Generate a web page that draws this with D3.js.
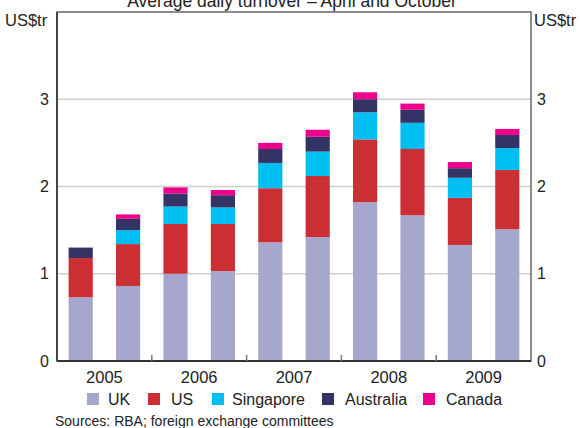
<!DOCTYPE html>
<html>
<head>
<meta charset="utf-8">
<script src="https://cdn.jsdelivr.net/npm/d3@7"></script>
<style>
  body { margin: 0; background: #fff; }
  text { font-family: "Liberation Sans", Arial, sans-serif; fill: #222; }
</style>
</head>
<body>
<svg width="580" height="428"></svg>
<script>
// data (US$ trillion)
var periods = ["2005-04", "2005-10", "2006-04", "2006-10", "2007-04", "2007-10", "2008-04", "2008-10", "2009-04", "2009-10"];
var years = ["2005", "2006", "2007", "2008", "2009"];
var countries = ["UK", "US", "Singapore", "Australia", "Canada"];
var colours = ["#a5a8cc", "#cc2f33", "#00bdf2", "#333366", "#ec008c"];

var uk        = [0.73, 0.86, 1.00, 1.03, 1.36, 1.42, 1.82, 1.67, 1.33, 1.51];
var us        = [0.45, 0.48, 0.57, 0.54, 0.62, 0.70, 0.72, 0.76, 0.54, 0.68];
var singapore = [0.00, 0.16, 0.20, 0.19, 0.29, 0.28, 0.31, 0.30, 0.23, 0.25];
var australia = [0.12, 0.13, 0.15, 0.14, 0.16, 0.17, 0.15, 0.15, 0.11, 0.15];
var canada    = [0.00, 0.05, 0.07, 0.06, 0.07, 0.08, 0.08, 0.07, 0.07, 0.07];
var yTicks = [0, 1, 2, 3];

var rows = periods.map(function(p, i) {
    return { period: p, UK: uk[i], US: us[i], Singapore: singapore[i], Australia: australia[i], Canada: canada[i] };
});

var svg = d3.select("svg");
var margin = { top: 12, right: 49, bottom: 67, left: 57 },
    chartWidth = 580 - margin.left - margin.right,
    chartHeight = 428 - margin.top - margin.bottom;

var x = d3.scaleBand().domain(periods).range([0, chartWidth]).paddingInner(0.49).paddingOuter(0.245);
var xYear = d3.scaleBand().domain(years).range([0, chartWidth]);
var y = d3.scaleLinear().domain([0, 4]).range([chartHeight, 0]);
var colour = d3.scaleOrdinal().domain(countries).range(colours);

var g = svg.append("g").attr("transform", "translate(" + margin.left + "," + margin.top + ")");

// title (cut off at top in the original)
svg.append("text")
    .attr("x", 292)
    .attr("y", 7)
    .attr("text-anchor", "middle")
    .style("font-size", "17.5px")
    .text("Average daily turnover \u2013 April and October");

// gridlines
g.selectAll(".grid")
    .data(yTicks.filter(function(d) { return d > 0; }))
    .enter().append("line")
    .attr("x1", 0).attr("x2", chartWidth)
    .attr("y1", function(d) { return y(d); })
    .attr("y2", function(d) { return y(d); })
    .attr("stroke", "#cfcfcf")
    .attr("stroke-width", 1.5);

// stacked bars
var stack = d3.stack().keys(countries)(rows);
g.selectAll(".series")
    .data(stack)
    .enter().append("g")
    .attr("fill", function(d) { return colour(d.key); })
    .selectAll("rect")
    .data(function(d) { return d; })
    .enter().append("rect")
    .attr("x", function(d) { return x(d.data.period); })
    .attr("width", x.bandwidth())
    .attr("y", function(d) { return y(d[1]); })
    .attr("height", function(d) { return y(d[0]) - y(d[1]); });

// frame
g.append("rect")
    .attr("width", chartWidth).attr("height", chartHeight)
    .attr("fill", "none")
    .attr("stroke", "#666")
    .attr("stroke-width", 1.5);
g.append("line")
    .attr("x1", 0).attr("x2", chartWidth)
    .attr("y1", chartHeight).attr("y2", chartHeight)
    .attr("stroke", "#333").attr("stroke-width", 2);
g.append("line")
    .attr("x1", 0).attr("x2", 0)
    .attr("y1", 0).attr("y2", chartHeight)
    .attr("stroke", "#444").attr("stroke-width", 2);

// year ticks between years
g.selectAll(".ytick")
    .data(years.slice(1))
    .enter().append("line")
    .attr("x1", function(d) { return xYear(d); })
    .attr("x2", function(d) { return xYear(d); })
    .attr("y1", chartHeight).attr("y2", chartHeight - 6)
    .attr("stroke", "#777").attr("stroke-width", 1.5);

// year labels
g.selectAll(".ylabel")
    .data(years)
    .enter().append("text")
    .attr("x", function(d) { return xYear(d) + xYear.bandwidth() / 2; })
    .attr("y", chartHeight + 22)
    .attr("text-anchor", "middle")
    .style("font-size", "16.5px")
    .text(function(d) { return d; });

// y axis labels both sides
[{ x: -8, anchor: "end" }, { x: chartWidth + 6, anchor: "start" }].forEach(function(side) {
    g.selectAll(null)
        .data(yTicks)
        .enter().append("text")
        .attr("x", side.x)
        .attr("y", function(d) { return y(d); })
        .attr("dy", "0.35em")
        .attr("text-anchor", side.anchor)
        .style("font-size", "16px")
        .text(function(d) { return d; });
});

svg.append("text").attr("x", 5).attr("y", 26).style("font-size", "16.5px").text("US$tr");
svg.append("text").attr("x", 534).attr("y", 26).style("font-size", "16.5px").text("US$tr");

// legend
var legendX = [87, 148, 212, 322, 423];
var legendTextX = [108, 171, 232, 345, 446];
var legend = svg.selectAll(".legend")
    .data(countries)
    .enter().append("g");
legend.append("rect")
    .attr("x", function(d, i) { return legendX[i]; })
    .attr("y", 393)
    .attr("width", 12).attr("height", 12)
    .attr("fill", function(d) { return colour(d); });
legend.append("text")
    .attr("x", function(d, i) { return legendTextX[i]; })
    .attr("y", 405)
    .style("font-size", "16px")
    .text(function(d) { return d; });

svg.append("text")
    .attr("x", 55).attr("y", 426)
    .style("font-size", "14px")
    .text("Sources: RBA; foreign exchange committees");
</script>
</body>
</html>
